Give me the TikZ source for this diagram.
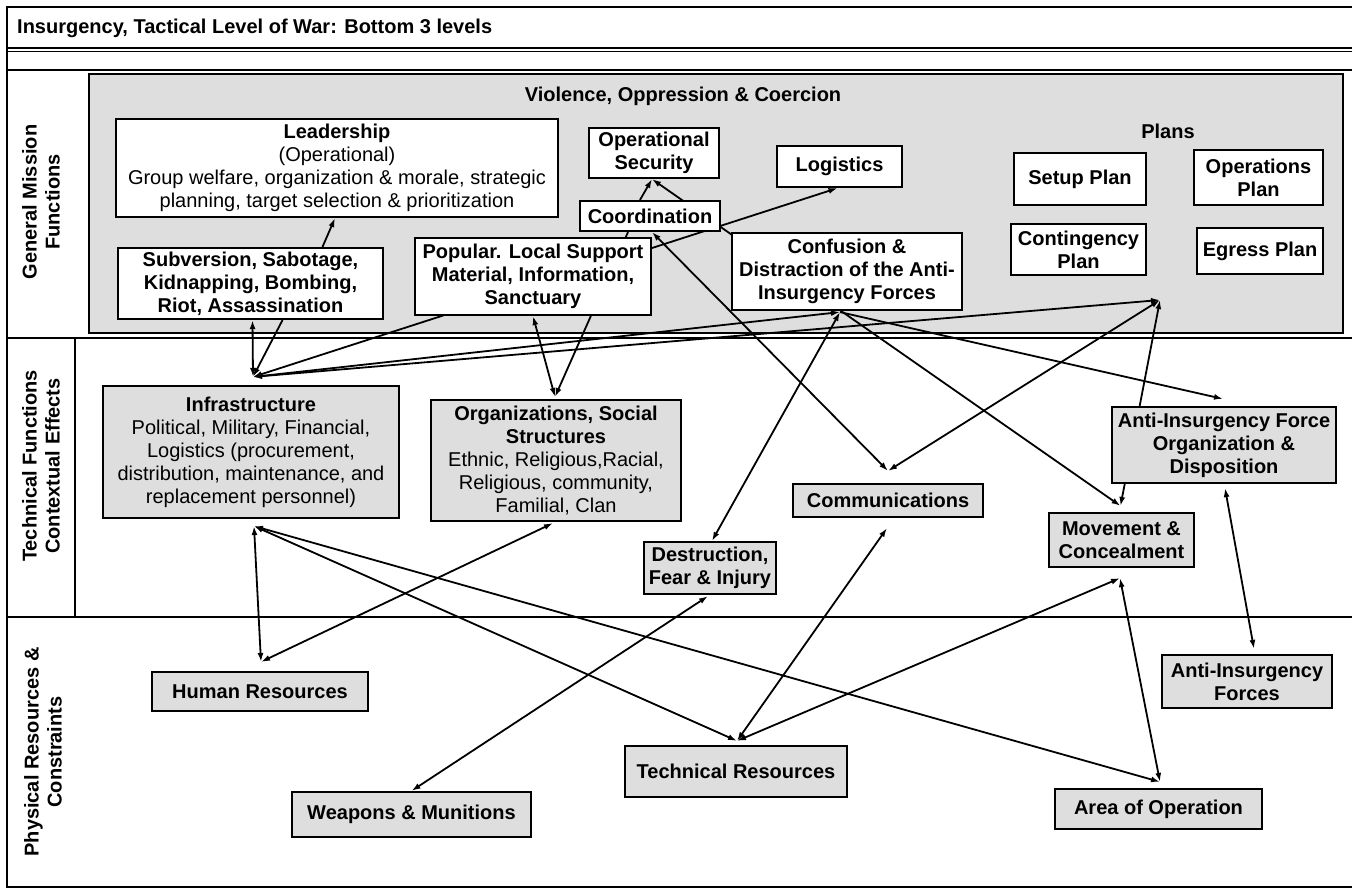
\documentclass[tikz,border=0pt]{standalone}
\usepackage{fontspec}
\setmainfont{Liberation Sans}
\usetikzlibrary{arrows.meta,calc}
\definecolor{shade}{gray}{0.87}
\pgfdeclarelayer{bg}
\pgfdeclarelayer{edges}
\pgfsetlayers{bg,edges,main}

\begin{document}
\begin{tikzpicture}[x=1pt,y=-1pt,
  every node/.style={font=\fontsize{20}{23}\selectfont, align=center, inner sep=0pt},
  bf/.style={font=\bfseries\fontsize{20}{23}\selectfont},
  sz/.style 2 args={minimum width=#1pt, minimum height=#2pt},
  wbox/.style={draw, line width=2.2pt, fill=white},
  gbox/.style={draw, line width=2.2pt, fill=shade},
  conn/.style={line width=1.8pt, {Latex[length=9pt,width=6pt]}-{Latex[length=9pt,width=6pt]}},
  toarr/.style={line width=1.8pt, -{Latex[length=9pt,width=6pt]}},
  frame/.style={line width=2.4pt},
  lab/.style={rotate=90, font=\bfseries\fontsize{20}{23}\selectfont}]

\useasboundingbox (0,0) rectangle (1352,889);

% frame, row bands and the shaded mission panel
\begin{pgfonlayer}{bg}
  \draw[frame] (1352,7) -- (7,7) -- (7,887) -- (1352,887);
  \draw[frame] (7,48) -- (1352,48);
  \draw[line width=1pt] (7,51) -- (1352,51);
  \draw[frame] (7,70) -- (1352,70);
  \draw[frame] (7,338) -- (1352,338);
  \draw[frame] (7,617) -- (1352,617);
  \draw[frame] (75,338) -- (75,617);
  \draw[line width=2.2pt, fill=shade] (89,74) rectangle (1343,333);
\end{pgfonlayer}

% title and row labels
\node[bf, anchor=west] (title) at (17,28) {Insurgency, Tactical Level of War: Bottom 3 levels};
\node[lab] (l1) at (41,202) {General Mission\\Functions};
\node[lab] (l2) at (41,466) {Technical Functions\\Contextual Effects};
\node[lab] (l3) at (43,752) {Physical Resources \&\\Constraints};

% general mission functions
\node[bf] (viol) at (683,96) {Violence, Oppression \& Coercion};
\node[wbox, sz={442}{98}] (lead) at (337,168) {\textbf{Leadership}\\(Operational)\\Group welfare, organization \& morale, strategic\\planning, target selection \& prioritization};
\node[wbox, bf, sz={265}{71}] (subv) at (250.5,283.5) {Subversion, Sabotage,\\Kidnapping, Bombing,\\Riot, Assassination};
\node[wbox, bf, sz={236}{77}] (pop) at (533,276.5) {Popular. Local Support\\Material, Information,\\Sanctuary};
\node[wbox, bf, sz={130}{50}] (opsec) at (654,153) {Operational\\Security};
\node[wbox, bf, sz={140}{30}] (coord) at (650,216) {Coordination};
\node[wbox, bf, sz={125}{41}] (logi) at (839.5,166.5) {Logistics};
\node[wbox, bf, sz={230}{77}] (conf) at (847,271.5) {Confusion \&\\Distraction of the Anti-\\Insurgency Forces};
\node[bf] (plans) at (1168,131) {Plans};
\node[wbox, bf, sz={132}{52}] (setup) at (1080,179) {Setup Plan};
\node[wbox, bf, sz={129}{55}] (opsplan) at (1258.5,177.5) {Operations\\Plan};
\node[wbox, bf, sz={135}{51}] (cont) at (1078.5,249.5) {Contingency\\Plan};
\node[wbox, bf, sz={126}{46}] (egress) at (1260,251) {Egress Plan};

% technical functions
\node[gbox, sz={296}{132}] (infra) at (251,452) {\textbf{Infrastructure}\\Political, Military, Financial,\\Logistics (procurement,\\distribution, maintenance, and\\replacement personnel)};
\node[gbox, sz={250}{121}] (org) at (556,460.5) {\textbf{Organizations, Social}\\\textbf{Structures}\\Ethnic, Religious,Racial,\\Religious, community,\\Familial, Clan};
\node[gbox, bf, sz={190}{33}] (comms) at (888,500.5) {Communications};
\node[gbox, bf, sz={132}{52}] (destr) at (710,568) {Destruction,\\Fear \& Injury};
\node[gbox, bf, sz={224}{76}] (aif) at (1224,445) {Anti-Insurgency Force\\Organization \&\\Disposition};
\node[gbox, bf, sz={145}{54}] (move) at (1121.5,540) {Movement \&\\Concealment};

% physical resources
\node[gbox, bf, sz={216}{39}] (human) at (260,691.5) {Human Resources};
\node[gbox, bf, sz={239}{45}] (weap) at (411.5,814.5) {Weapons \& Munitions};
\node[gbox, bf, sz={222}{51}] (tech) at (736,771.5) {Technical Resources};
\node[gbox, bf, sz={207}{40}] (area) at (1158.5,809) {Area of Operation};
\node[gbox, bf, sz={170}{53}] (aiforces) at (1247,681.5) {Anti-Insurgency\\Forces};

% junction points where several links meet
\coordinate (infratop) at ($(infra.north)+(2,-8)$);
\coordinate (infrabot) at ($(infra.south)+(3,7)$);
\coordinate (confbot) at ($(conf.south)+(-7,1)$);
\coordinate (planshub) at (1160,300);

\begin{pgfonlayer}{edges}
  \draw[conn] ($(subv.south)+(2,0)$) -- (infratop);
  \draw[toarr] ($(subv.south)+(32,0)$) -- (infratop);
  \draw[toarr] ($(subv.north)+(72,0)$) -- ($(lead.south)+(-2,0)$);
  \draw[conn] (infratop) -- ($(logi.south)+(-2,0)$);
  \draw[conn] (infratop) -- (confbot);
  \draw[conn] (infratop) -- (planshub);
  \draw[toarr] ($(coord.north)+(-10,0)$) -- ($(opsec.south)+(-2,0)$);
  \draw[conn] ($(opsec.south)+(-2,0)$) -- ($(move.north)+(-1,-6)$);
  \draw[conn] ($(coord.south)+(2,0)$) -- ($(comms.north)+(0,-12)$);
  \draw[toarr] ($(coord.south)+(-22,0)$) -- ($(org.north)+(-1,-2)$);
  \draw[conn] (pop.south) -- ($(org.north)+(-1,-2)$);
  \draw[conn] (confbot) -- ($(destr.north)+(2,0)$);
  \draw[toarr] (confbot) -- ($(aif.north)+(-1,-7)$);
  \draw[conn] (planshub) -- ($(comms.north)+(0,-12)$);
  \draw[conn] (planshub) -- ($(move.north)+(-1,-6)$);
  \draw[conn] (infrabot) -- ($(human.north)+(1,-9)$);
  \draw[conn] (infrabot) -- ($(tech.north)+(1,-4)$);
  \draw[conn] (infrabot) -- ($(area.north)+(1.5,-6)$);
  \draw[conn] ($(org.south)+(-3,1)$) -- ($(human.north)+(1,-9)$);
  \draw[conn] ($(destr.south)+(-2,1)$) -- (weap.north);
  \draw[conn] ($(comms.south)+(-1,10)$) -- ($(tech.north)+(1,-4)$);
  \draw[conn] ($(move.south)+(-1.5,10)$) -- ($(tech.north)+(1,-4)$);
  \draw[conn] ($(move.south)+(-1.5,10)$) -- ($(area.north)+(1.5,-6)$);
  \draw[conn] ($(aif.south)+(1,4)$) -- ($(aiforces.north)+(7,-5)$);
\end{pgfonlayer}
\end{tikzpicture}
\end{document}
